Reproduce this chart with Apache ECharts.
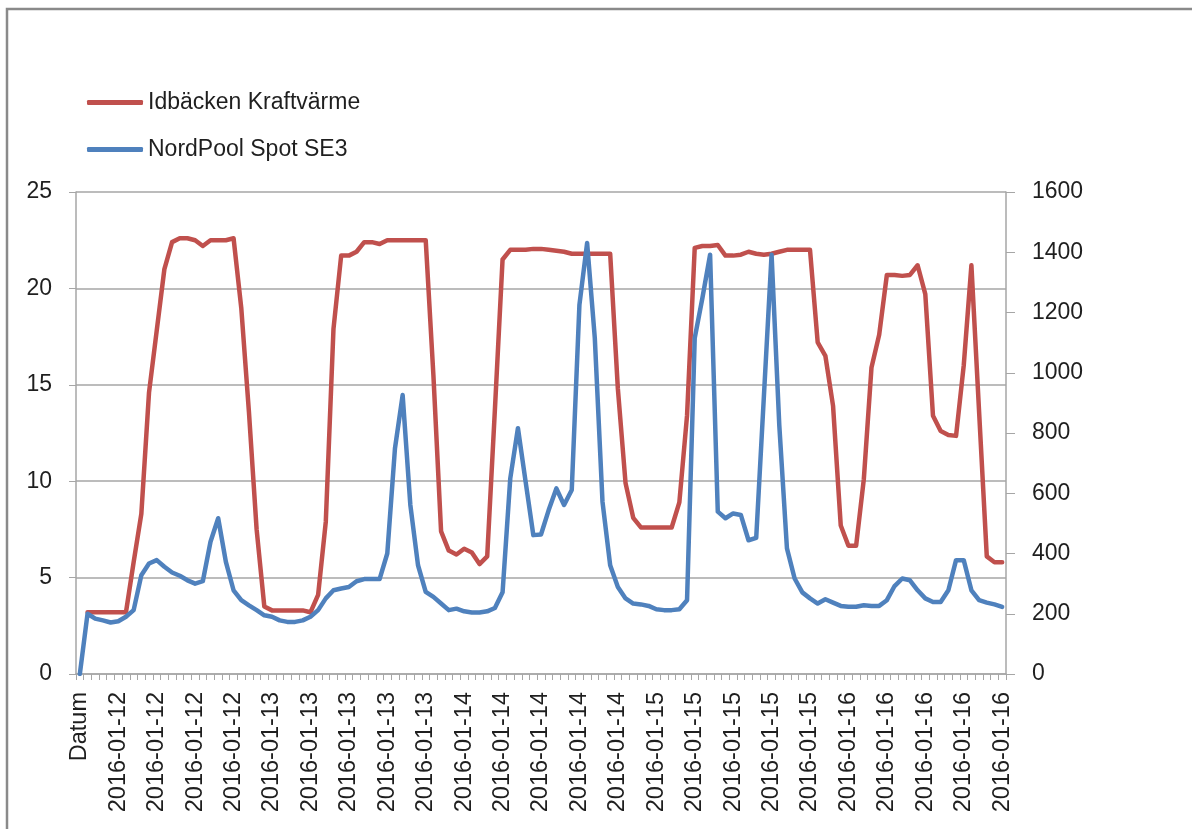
<!DOCTYPE html>
<html>
<head>
<meta charset="utf-8">
<script src="https://cdn.jsdelivr.net/npm/echarts@6/dist/echarts.min.js"></script>
<style>
html,body{margin:0;padding:0;background:#fff;}
#chart{width:1192px;height:829px;}
</style>
</head>
<body>
<div id="chart"></div>
<script>
// Category labels: first category is the header "Datum", then hourly rows per day
const headerLabel = 'Datum';
const days = ['2016-01-12', '2016-01-13', '2016-01-14', '2016-01-15', '2016-01-16'];
const hoursPerDay = 24;

const seriesNames = ['Idbäcken Kraftvärme', 'NordPool Spot SE3'];

// Idbäcken Kraftvärme (left axis)
const idbacken = [null,
  3.2, 3.2, 3.2, 3.2, 3.2, 3.2, 5.8, 8.3, 14.6, 17.8, 21.0, 22.4, 22.6, 22.6, 22.5, 22.2, 22.5, 22.5, 22.5, 22.6, 19.0, 13.6, 7.5, 3.5,
  3.3, 3.3, 3.3, 3.3, 3.3, 3.2, 4.1, 7.9, 17.9, 21.7, 21.7, 21.9, 22.4, 22.4, 22.3, 22.5, 22.5, 22.5, 22.5, 22.5, 22.5, 15.5, 7.4, 6.4,
  6.2, 6.5, 6.3, 5.7, 6.1, 13.7, 21.5, 22.0, 22.0, 22.0, 22.05, 22.05, 22.0, 21.95, 21.9, 21.8, 21.8, 21.8, 21.8, 21.8, 21.8, 14.8, 9.9, 8.1,
  7.6, 7.6, 7.6, 7.6, 7.6, 8.9, 13.4, 22.1, 22.2, 22.2, 22.25, 21.7, 21.7, 21.75, 21.9, 21.8, 21.75, 21.8, 21.9, 22.0, 22.0, 22.0, 22.0, 17.2,
  16.5, 13.9, 7.7, 6.65, 6.65, 10.1, 15.9, 17.6, 20.7, 20.7, 20.65, 20.7, 21.2, 19.7, 13.4, 12.6, 12.4, 12.35, 16.0, 21.2, 13.6, 6.1, 5.8, 5.8
];

// NordPool Spot SE3 (right axis)
const nordpool = [0,
  200, 184, 178, 171, 175, 190, 212, 328, 367, 378, 356, 337, 326, 311, 300, 308, 439, 517, 372, 278, 245, 228, 212, 195,
  190, 178, 173, 173, 178, 190, 212, 251, 278, 284, 289, 308, 315, 315, 315, 400, 749, 926, 561, 361, 273, 256, 234, 212,
  217, 208, 204, 204, 208, 219, 271, 649, 816, 638, 461, 463, 544, 616, 561, 611, 1226, 1431, 1115, 572, 361, 289, 251, 234,
  231, 226, 215, 212, 212, 215, 245, 1115, 1248, 1392, 539, 517, 533, 528, 444, 452, 922, 1392, 827, 417, 317, 271, 251, 234,
  248, 237, 226, 223, 223, 228, 226, 226, 245, 292, 317, 311, 278, 251, 239, 239, 278, 378, 378, 278, 245, 237, 231, 223
];

const leftTicks = {min: 0, max: 25, interval: 5};
const rightTicks = {min: 0, max: 1600, interval: 200};

const categories = [headerLabel];
days.forEach(d => { for (let h = 0; h < hoursPerDay; h++) categories.push(d); });

const chart = echarts.init(document.getElementById('chart'));
const font = 'Liberation Sans, Arial, sans-serif';
const textColor = '#1f1f1f';
const gridColor = '#A6A6A6';

chart.setOption({
  animation: false,
  backgroundColor: '#ffffff',
  graphic: [{
    type: 'rect',
    shape: {x: 7, y: 9, width: 1400, height: 1000},
    style: {fill: 'none', stroke: '#8a8a8a', lineWidth: 2.5},
    silent: true
  }],
  legend: {
    orient: 'vertical',
    left: 82,
    top: 86,
    itemWidth: 56,
    itemHeight: 5,
    itemGap: 24,
    icon: 'roundRect',
    data: seriesNames,
    textStyle: {fontFamily: font, fontSize: 23, color: textColor}
  },
  grid: {left: 76, right: 186, top: 192, bottom: 155, containLabel: false},
  xAxis: {
    type: 'category',
    data: categories,
    boundaryGap: true,
    axisLine: {show: true, lineStyle: {color: gridColor, width: 1.5}},
    axisTick: {show: true, interval: 0, length: 6, lineStyle: {color: gridColor}},
    axisLabel: {
      interval: 4,
      rotate: 90,
      margin: 18,
      fontFamily: font,
      fontSize: 23.5,
      color: textColor
    },
    splitLine: {show: false}
  },
  yAxis: [{
    type: 'value',
    min: leftTicks.min, max: leftTicks.max, interval: leftTicks.interval,
    position: 'left',
    axisLine: {show: true, lineStyle: {color: gridColor, width: 1.5}},
    axisTick: {show: true, length: 7, lineStyle: {color: gridColor}},
    axisLabel: {margin: 24, fontFamily: font, fontSize: 23, color: textColor},
    splitLine: {show: true, lineStyle: {color: gridColor, width: 1.5}}
  }, {
    type: 'value',
    min: rightTicks.min, max: rightTicks.max, interval: rightTicks.interval,
    position: 'right',
    axisLine: {show: true, lineStyle: {color: gridColor, width: 1.5}},
    axisTick: {show: true, length: 9, lineStyle: {color: gridColor}},
    axisLabel: {margin: 26, fontFamily: font, fontSize: 23, color: textColor,
      formatter: v => String(v)},
    splitLine: {show: false}
  }],
  series: [{
    name: seriesNames[0],
    type: 'line',
    yAxisIndex: 0,
    data: idbacken,
    showSymbol: false,
    symbol: 'none',
    color: '#C0504D',
    lineStyle: {color: '#C0504D', width: 4.5, join: 'round', cap: 'round'}
  }, {
    name: seriesNames[1],
    type: 'line',
    yAxisIndex: 1,
    data: nordpool,
    showSymbol: false,
    symbol: 'none',
    color: '#4F81BD',
    lineStyle: {color: '#4F81BD', width: 4.5, join: 'round', cap: 'round'}
  }]
});
</script>
</body>
</html>
